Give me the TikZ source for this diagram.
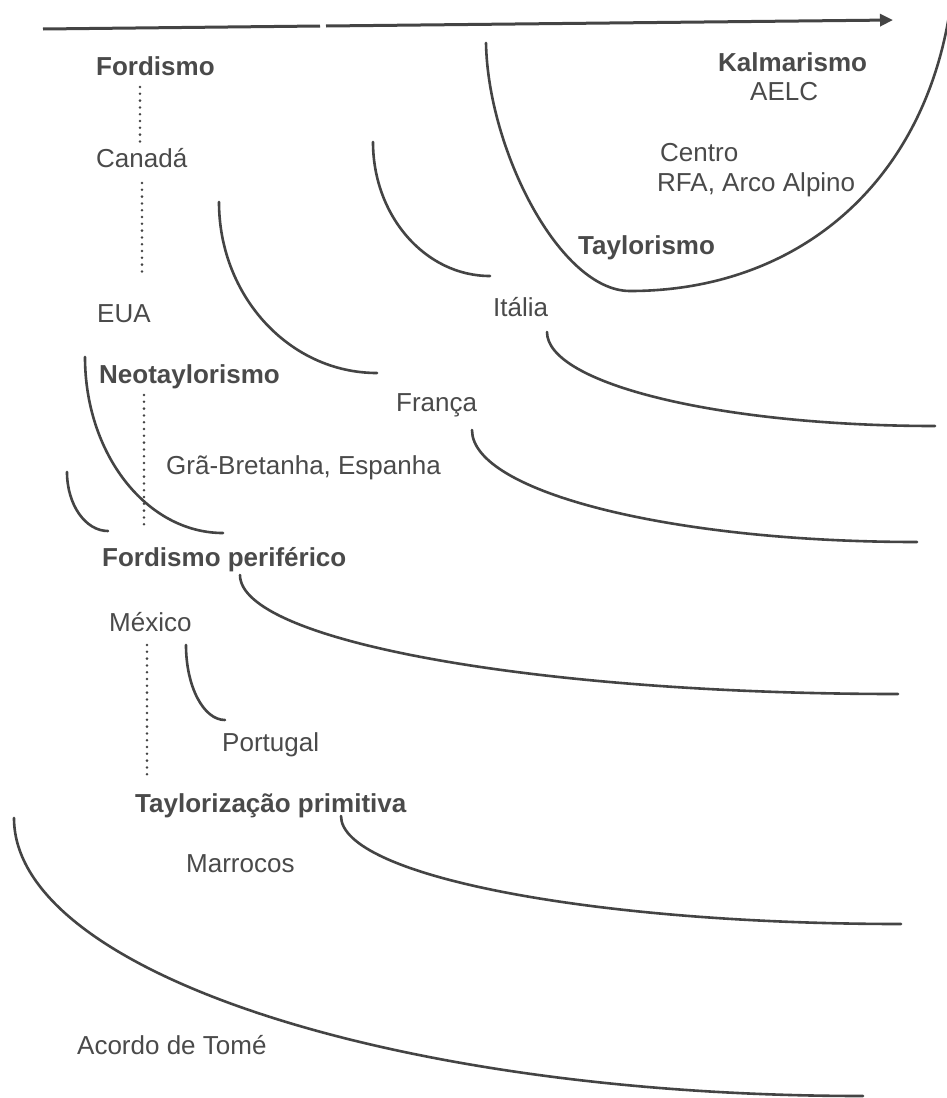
\documentclass[tikz,border=0pt]{standalone}
\usepackage{fontspec}
\setmainfont{Liberation Sans}
\usetikzlibrary{arrows.meta}
\definecolor{ink}{HTML}{444444}
\definecolor{txt}{HTML}{4A4A4A}
\begin{document}
\begin{tikzpicture}[x=1pt,y=-1pt,
  curve/.style={draw=ink,line width=2.6pt,line cap=round},
  lbl/.style={anchor=base west,inner sep=0pt,text=txt,font=\fontsize{26}{30}\selectfont},
  hd/.style={lbl,font=\fontsize{26}{30}\selectfont\bfseries},
  dotline/.style={draw=ink,line width=2.8pt,line cap=round,dash pattern=on 0pt off 6.8pt},
  axisline/.style={draw=ink,line width=3pt}]
\useasboundingbox[fill=white] (0,0) rectangle (947,1098);

% time axis
\coordinate (ar0) at (43,29);
\coordinate (ar1) at (320,26);
\coordinate (ar2) at (326,26);
\coordinate (ar3) at (893,20);
\draw[axisline] (ar0) -- (ar1);
\draw[axisline,-{Triangle[length=13pt,width=12pt]}] (ar2) -- (ar3);

% labels
\node[hd]  (fordismo) at (96,75)   {Fordismo};
\node[lbl] (canada)   at (96,167)  {Canadá};
\node[lbl] (eua)      at (97,322)  {EUA};
\node[hd]  (neo)      at (99,383)  {Neotaylorismo};
\node[lbl] (gb)       at (166,474) {Grã-Bretanha, Espanha};
\node[hd]  (fp)       at (102,566) {Fordismo periférico};
\node[lbl] (mex)      at (109,631) {México};
\node[lbl] (port)     at (222,751) {Portugal};
\node[hd]  (tp)       at (135,812) {Taylorização primitiva};
\node[lbl] (marr)     at (186,872) {Marrocos};
\node[lbl] (tome)     at (77,1054) {Acordo de Tomé};
\node[lbl] (italia)   at (493,316) {Itália};
\node[lbl] (franca)   at (396,411) {França};
\node[hd]  (kalm)     at (718,71)  {Kalmarismo};
\node[lbl] (aelc)     at (750,100) {AELC};
\node[lbl] (centro)   at (660,161) {Centro};
\node[lbl] (rfa)      at (657,191) {RFA, Arco Alpino};
\node[hd]  (tay)      at (578,254) {Taylorismo};

% dotted links
\coordinate (x1) at (140,0);
\coordinate (x2) at (142,0);
\coordinate (x3) at (144,0);
\coordinate (x4) at (147,0);
\draw[dotline] ([yshift=-12pt]fordismo.base -| x1) -- ([yshift=24pt]canada.base -| x1);
\draw[dotline] ([yshift=-16pt]canada.base -| x2) -- ([yshift=44pt]eua.base -| x2);
\draw[dotline] ([yshift=-12pt]neo.base -| x3) -- ([yshift=38pt]fp.base -| x3);
\draw[dotline] ([yshift=-14pt]mex.base -| x4) -- ([yshift=32pt]tp.base -| x4);

% arcs
\draw[curve] (219,202) arc[start angle=180,end angle=270,x radius=158pt,y radius=171pt];
\draw[curve] (373,142) arc[start angle=180,end angle=270,x radius=117pt,y radius=134pt];
\draw[curve] (547,332) arc[start angle=180,end angle=270,x radius=388pt,y radius=94pt];
\draw[curve] (472,430) arc[start angle=180,end angle=270,x radius=445pt,y radius=112pt];
\draw[curve] (85,357)  arc[start angle=180,end angle=270,x radius=138pt,y radius=176pt];
\draw[curve] (67,472)  arc[start angle=180,end angle=270,x radius=41pt,y radius=59pt];
\draw[curve] (240,575) arc[start angle=180,end angle=270,x radius=658pt,y radius=119pt];
\draw[curve] (186,645) arc[start angle=180,end angle=270,x radius=39pt,y radius=75pt];
\draw[curve] (341,816) arc[start angle=180,end angle=270,x radius=560pt,y radius=108pt];
\draw[curve] (14,818)  arc[start angle=180,end angle=270,x radius=849pt,y radius=278pt];
% big bowl
\draw[curve] (486,43) .. controls (488,150) and (560,291) .. (630,291)
             .. controls (800,291) and (930,180) .. (952,-5);
\end{tikzpicture}
\end{document}
